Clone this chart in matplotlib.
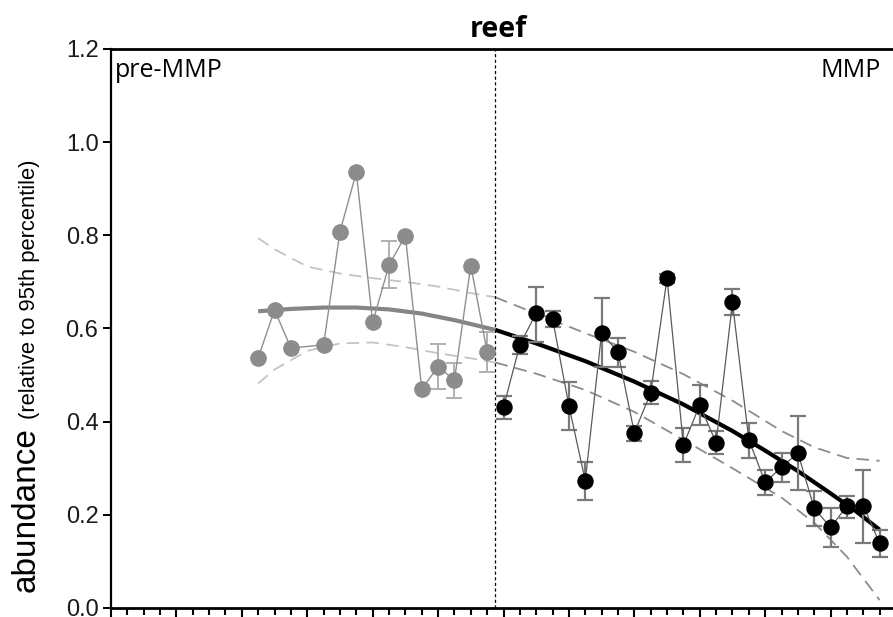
import numpy as np
import matplotlib.pyplot as plt

# survey slots (slot 3 has no pre-MMP survey)
pre_x = [0, 1, 2, 4, 5, 6, 7, 8, 9, 10, 11, 12, 13, 14]
pre_y = [0.537, 0.640, 0.558, 0.565, 0.808, 0.935, 0.613, 0.736, 0.799, 0.470, 0.518, 0.489, 0.735, 0.550]
pre_hi = [0.537, 0.640, 0.558, 0.565, 0.808, 0.935, 0.613, 0.788, 0.799, 0.470, 0.566, 0.527, 0.735, 0.593]
pre_lo = [0.537, 0.640, 0.558, 0.565, 0.808, 0.935, 0.613, 0.688, 0.799, 0.470, 0.470, 0.450, 0.735, 0.506]

mmp_x = list(range(15, 39))
mmp_y = [0.431, 0.565, 0.633, 0.621, 0.434, 0.273, 0.591, 0.549, 0.376, 0.462,
         0.708, 0.350, 0.436, 0.355, 0.656, 0.361, 0.270, 0.302, 0.333, 0.214,
         0.173, 0.219, 0.220, 0.139]
mmp_hi = [0.456, 0.584, 0.690, 0.638, 0.485, 0.313, 0.666, 0.579, 0.391, 0.487,
          0.718, 0.386, 0.479, 0.379, 0.684, 0.398, 0.296, 0.332, 0.412, 0.252,
          0.214, 0.240, 0.296, 0.167]
mmp_lo = [0.406, 0.545, 0.572, 0.604, 0.382, 0.232, 0.518, 0.518, 0.359, 0.437,
          0.697, 0.313, 0.393, 0.331, 0.628, 0.321, 0.243, 0.271, 0.253, 0.175,
          0.130, 0.193, 0.140, 0.109]

# fitted trend + confidence band
trend_pre_x = [0, 2, 4, 6, 8, 10, 12, 14.5]
trend_pre_y = [0.637, 0.642, 0.645, 0.645, 0.641, 0.632, 0.618, 0.597]
trend_mmp_x = [14.5, 17, 20, 23, 26, 29, 31, 33, 35, 36.5, 38]
trend_mmp_y = [0.597, 0.568, 0.530, 0.486, 0.437, 0.380, 0.338, 0.294, 0.246, 0.209, 0.168]

band_pre_x = [0, 1, 3, 5, 7, 9, 11, 13, 14.5]
upper_pre = [0.794, 0.770, 0.733, 0.718, 0.708, 0.700, 0.690, 0.676, 0.667]
lower_pre = [0.482, 0.512, 0.552, 0.568, 0.570, 0.560, 0.547, 0.536, 0.527]
band_mmp_x = [14.5, 17, 20, 23, 26, 29, 32, 34, 36, 38]
upper_mmp = [0.667, 0.632, 0.590, 0.550, 0.502, 0.445, 0.380, 0.345, 0.322, 0.316]
lower_mmp = [0.527, 0.503, 0.468, 0.421, 0.361, 0.300, 0.237, 0.183, 0.110, 0.017]

switch_x = 14.5
y_ticks = [0.0, 0.2, 0.4, 0.6, 0.8, 1.0, 1.2]

plt.rcParams['font.family'] = ['Liberation Sans', 'DejaVu Sans']

fig = plt.figure(figsize=(8.93, 6.17), dpi=100)
ax = fig.add_axes([111 / 893, 1 - 608 / 617, 785 / 893, 559 / 617])

dash = (0, (7, 4))
ax.plot(band_pre_x, upper_pre, color='#c4c4c4', lw=1.3, ls=dash, zorder=1)
ax.plot(band_pre_x, lower_pre, color='#c4c4c4', lw=1.3, ls=dash, zorder=1)
ax.plot(band_mmp_x, upper_mmp, color='#8c8c8c', lw=1.3, ls=dash, zorder=1)
ax.plot(band_mmp_x, lower_mmp, color='#8c8c8c', lw=1.3, ls=dash, zorder=1)

ax.plot(trend_pre_x, trend_pre_y, color='#858585', lw=3, zorder=2, solid_capstyle='butt')
ax.plot(trend_mmp_x, trend_mmp_y, color='black', lw=3, zorder=2, solid_capstyle='butt')

# pre-MMP series (bars only where they show outside the marker)
pre_err = [np.array(pre_y) - np.array(pre_lo), np.array(pre_hi) - np.array(pre_y)]
shown = [i for i in range(len(pre_x)) if pre_hi[i] > pre_lo[i]]
ax.errorbar([pre_x[i] for i in shown], [pre_y[i] for i in shown],
            yerr=[pre_err[0][shown], pre_err[1][shown]], fmt='none', ecolor='#b0b0b0',
            elinewidth=1.4, capsize=6, capthick=1.4, zorder=3)
ax.plot(pre_x, pre_y, color='#8f8f8f', lw=1.0, zorder=3)
ax.plot(pre_x, pre_y, 'o', color='#8c8c8c', ms=11, mec='#8c8c8c', zorder=4)

# MMP series
mmp_err = [np.array(mmp_y) - np.array(mmp_lo), np.array(mmp_hi) - np.array(mmp_y)]
ax.errorbar(mmp_x, mmp_y, yerr=mmp_err, fmt='none', ecolor='#7a7a7a',
            elinewidth=1.6, capsize=6, capthick=1.6, zorder=3)
ax.plot(mmp_x, mmp_y, color='#5a5a5a', lw=0.9, zorder=3)
ax.plot(mmp_x, mmp_y, 'o', color='black', ms=10.8, zorder=4)

ax.axvline(switch_x, color='black', lw=0.9, ls=(0, (2.5, 2)), zorder=1)

ax.set_xlim(-9, 39)
ax.set_ylim(0, 1.2)
ax.set_xticks(np.arange(-9, 40, 4))
ax.set_xticks(np.arange(-9, 40, 1), minor=True)
ax.set_xticklabels([])
ax.set_yticks(y_ticks)
ax.set_yticklabels([f'{v:.1f}' for v in y_ticks], fontsize=17, color='#1a1a1a')
ax.tick_params(axis='y', direction='out', length=6, width=1.4, pad=3)
ax.tick_params(axis='x', which='major', direction='out', length=6.5, width=1.5)
ax.tick_params(axis='x', which='minor', direction='out', length=5, width=1.5)

ax.spines['right'].set_visible(False)
ax.spines['top'].set_linewidth(2)
ax.spines['bottom'].set_linewidth(2)
ax.spines['left'].set_linewidth(1.6)

ax.text(-8.75, 1.14, 'pre-MMP', fontsize=18, family='Open Sans', va='baseline', ha='left')
ax.text(38.05, 1.14, 'MMP', fontsize=18, family='Open Sans', va='baseline', ha='right')

fig.text(498 / 893, 1 - 37 / 617, 'reef', fontsize=20.5, family='Open Sans',
         fontweight='bold', ha='center', va='baseline')

fig.text(35 / 893, 1 - 592 / 617, 'abundance', fontsize=24, rotation=90,
         rotation_mode='anchor', ha='left', va='baseline')
fig.text(35 / 893, 1 - 419 / 617, '(relative to 95th percentile)', fontsize=15.8,
         rotation=90, rotation_mode='anchor', ha='left', va='baseline')

fig.savefig('out.png', dpi=100)
